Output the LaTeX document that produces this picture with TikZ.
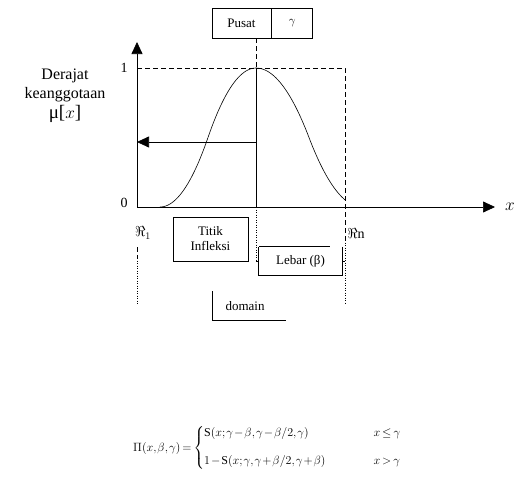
\documentclass[tikz,border=0pt]{standalone}
\usepackage{amsmath,amssymb}
\usepackage{fontspec}
\setmainfont{Liberation Serif}
\usepackage{tikz}
\usetikzlibrary{arrows.meta,positioning}
\tikzset{
  axisline/.style={-{Triangle[length=12pt,width=11pt]},line width=0.7pt},
  guideline/.style={line width=0.7pt,dash pattern=on 5pt off 3pt},
  dotline/.style={line width=0.7pt,dash pattern=on 1pt off 1.5pt},
  boxline/.style={line width=0.7pt},
  labelbox/.style={draw,line width=0.7pt,align=center,inner sep=0pt,
    font=\fontsize{13}{15}\selectfont},
  plainlabel/.style={inner sep=0pt,align=center,font=\fontsize{13}{15}\selectfont},
  ticklabel/.style={inner sep=0pt,font=\fontsize{14}{16}\selectfont},
  curveline/.style={line width=0.6pt}
}

\begin{document}
\begin{tikzpicture}[x=1pt,y=-1pt]
  \useasboundingbox (0,0) rectangle (517,480);
  % points on the axes
  \coordinate (origin) at (137,207);
  \coordinate (ytop) at (137,42);
  \coordinate (xend) at (495,207);
  \coordinate (top1) at (137,68);
  \coordinate (peak) at (256,68);
  \coordinate (cbase) at (256,207);
  \coordinate (cmid) at (256,261);
  \coordinate (ctop) at (256,38);
  \coordinate (rntop) at (345,68);
  \coordinate (rnlow) at (345,240);
  \coordinate (rnend) at (345,305);
  \coordinate (rnstub) at (345,261);
  \coordinate (halfc) at (256,142);
  \coordinate (halfy) at (137,142);
  \coordinate (r1a) at (137,247);
  \coordinate (r1b) at (137,258);
  \coordinate (r1c) at (137,305);

  % labels and boxes
  \node[labelbox,minimum width=59pt,minimum height=30pt] (pusat) at (241.5,23) {Pusat};
  \node[labelbox,minimum width=41pt,minimum height=30pt,right=0pt of pusat] (gammacell) {$\gamma$};
  \node[labelbox,minimum width=75pt,minimum height=44pt] (titik) at (210.5,239) {Titik\\Infleksi};
  \node[plainlabel,minimum width=83pt,minimum height=28pt] (lebar) at (300.5,261) {Lebar (β)};
  \node[plainlabel] (domain) at (245,306) {domain};
  \node[ticklabel] (one) at (124,68) {1};
  \node[ticklabel] (zero) at (124,203) {0};
  \node[ticklabel] (rone) at (143,233) {$\Re_1$};
  \node[ticklabel] (rn) at (356,233) {$\Re$n};
  \node[inner sep=0pt,font=\fontsize{19}{20}\selectfont] (xlabel) at (510,207) {$x$};
  \node[inner sep=0pt,align=center,font=\fontsize{16}{19}\selectfont] (ylabel) at (65,96)
    {Derajat\\keanggotaan\\[1pt]{\fontsize{19}{20}\selectfont μ[$x$]}};

  % axes
  \draw[axisline] (origin) -- (ytop);
  \draw[axisline] (origin) -- (xend);

  % guides
  \draw[guideline] (top1) -- (rntop) -- (rnlow);
  \draw[dotline] (rnlow) -- (rnend);
  \draw[guideline] (ctop) -- (peak);
  \draw[boxline] (peak) -- (cbase);
  \draw[dotline] (cbase) -- (cmid);
  \draw[guideline] (r1a) -- (r1b);
  \draw[dotline] (r1b) -- (r1c);
  \draw[axisline] (halfc) -- (halfy);

  % pi curve
  \draw[curveline] plot[domain=0:0.5,samples=25] ({160+96*\x},{207-278*\x*\x})
    -- plot[domain=0.5:1,samples=25] ({160+96*\x},{207-139*(1-2*(1-\x)^2)})
    -- plot[domain=0:0.5,samples=25] ({256+106*\x},{68+278*\x*\x})
    -- plot[domain=0.5:0.84,samples=25] ({256+106*\x},{68+139*(1-2*(1-\x)^2)});

  % width marker
  \draw[boxline] (lebar.north west) -- ++(71,0);
  \draw[boxline] (lebar.north east) -- (lebar.south east) -- (lebar.south west) -- (lebar.north west);
  \draw[boxline] (cmid) -- (lebar.west);
  \draw[boxline] (lebar.east) -- (rnstub);

  % domain bracket
  \coordinate (dtop) at (212,291);
  \coordinate (dcorner) at (212,320);
  \coordinate (dend) at (286,320);
  \draw[boxline] (dtop) -- (dcorner) -- (dend);

  % formula
  \node[anchor=west,inner sep=0pt,font=\fontsize{12}{14}\selectfont] (pifunc) at (133,448)
    {\medmuskip=1.5mu\thickmuskip=3mu\thinmuskip=1.5mu
     $\Pi(x,\beta,\gamma) = \left\{\begin{array}{@{}l@{\hspace{48pt}}l@{}}
      \mathrm{S}(x;\gamma-\beta,\gamma-\beta/2,\gamma) & x\le\gamma\\[14pt]
      1-\mathrm{S}(x;\gamma,\gamma+\beta/2,\gamma+\beta) & x>\gamma
    \end{array}\right.$};
\end{tikzpicture}
\end{document}
